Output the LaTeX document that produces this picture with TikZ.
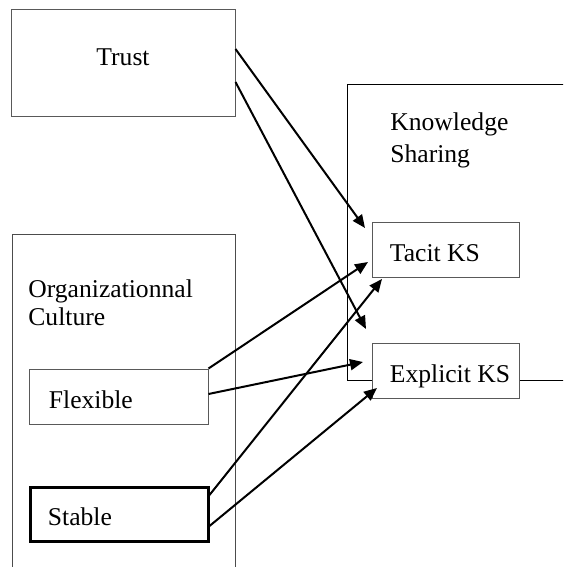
\documentclass[tikz,border=0pt]{standalone}
\usepackage{fontspec}
\setmainfont{Liberation Serif}
\usetikzlibrary{arrows.meta}
\tikzset{
  area/.style={draw=black!70, line width=0.5pt, inner sep=0pt},
  kbox/.style={draw=black!65, line width=0.5pt, fill=white, inner sep=0pt,
    minimum width=73.5pt, minimum height=27.5pt},
  ktext/.style={anchor=west, inner sep=0pt, text height=11.5pt, text depth=0pt,
    font=\fontsize{12.8}{15}\selectfont},
  lbl/.style={anchor=north west, inner sep=0pt, align=left},
  link/.style={-{Triangle[length=6.5pt,width=5.5pt]}, line width=1pt, black}
}
\begin{document}
\begin{tikzpicture}[x=0.5pt,y=-0.5pt]
\useasboundingbox (0,0) rectangle (563,567);
\clip (0,0) rectangle (563,567);
% the two large areas, cut by the page edge
\node[area, draw=black, minimum width=136.5pt, minimum height=147.5pt] (ks) at (483.5,232.5) {};
\node[area, minimum width=111.5pt, minimum height=193pt] (orgc) at (123.5,427) {};
\node[lbl, font=\fontsize{12.8}{16}\selectfont] (kslbl) at (390,112) {Knowledge\\Sharing};
\node[lbl, font=\fontsize{12.8}{14}\selectfont] (orgclbl) at (28,279) {Organizationnal\\Culture};
% boxes
\node[kbox, minimum width=112pt, minimum height=53.5pt, text height=8.5pt, text depth=6.5pt,
  font=\fontsize{12.8}{15}\selectfont] (trust) at (123,63.5) {Trust};
\node[kbox, label={[ktext, xshift=9pt]west:Tacit KS}] (tacit) at (445.5,249.5) {};
\node[kbox, label={[ktext, xshift=9pt]west:Explicit KS}] (explicit) at (445.5,370.5) {};
\node[kbox, minimum width=89.5pt, label={[ktext, xshift=10pt]west:Flexible}] (flexible) at (118.5,396.5) {};
\node[kbox, draw=black, line width=1.5pt, minimum width=89pt, minimum height=27pt,
  label={[ktext, xshift=9.5pt]west:Stable}] (stable) at (119,514) {};
% arrow tips
\coordinate (tA) at (365,228);
\coordinate (tB) at (366,329);
\coordinate (tC) at (368,262);
\coordinate (tD) at (363,362);
\coordinate (tE) at (382,279);
\coordinate (tF) at (377,388);
\draw[link] ([yshift=7.25pt]trust.east) -- (tA);
\draw[link] ([yshift=-9.25pt]trust.east) -- (tB);
\draw[link] (flexible.north east) -- (tC);
\draw[link] ([yshift=1.25pt]flexible.east) -- (tD);
\draw[link] ([yshift=9.5pt]stable.east) -- (tE);
\draw[link] ([yshift=-6pt]stable.east) -- (tF);
\end{tikzpicture}
\end{document}
